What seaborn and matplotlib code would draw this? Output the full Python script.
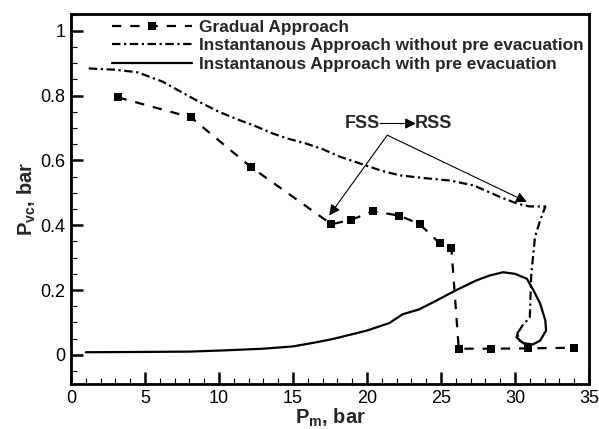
import matplotlib
matplotlib.use("Agg")
import matplotlib.pyplot as plt
import seaborn as sns
import pandas as pd
from matplotlib.ticker import MultipleLocator, FuncFormatter

# ---- data ----
grad_x = [3.15, 8.1, 12.15, 17.6, 18.95, 20.4, 22.15, 23.55, 24.9, 25.7, 26.2, 28.4, 30.9, 34.0]
grad_y = [0.795, 0.733, 0.58, 0.403, 0.417, 0.443, 0.43, 0.404, 0.345, 0.33, 0.019, 0.019, 0.02, 0.022]

inst_x = [1.2, 3.0, 4.5, 6.2, 7.5, 8.7, 10.0, 11.4, 12.3, 13.65, 14.6, 15.9, 17.0, 18.2, 19.7,
          21.0, 22.2, 24.0, 25.6, 27.2, 29.0, 30.2, 31.0, 32.05, 31.7, 31.35, 31.24, 31.1, 31.0,
          30.5, 30.15, 30.3, 30.8]
inst_y = [0.884, 0.88, 0.872, 0.843, 0.81, 0.78, 0.75, 0.724, 0.709, 0.683, 0.668, 0.652, 0.635,
          0.611, 0.588, 0.568, 0.554, 0.545, 0.538, 0.523, 0.487, 0.466, 0.458, 0.458, 0.415,
          0.364, 0.312, 0.25, 0.116, 0.09, 0.065, 0.044, 0.03]

pre_x = [1.0, 5.0, 8.0, 10.5, 13.0, 15.0, 16.6, 17.7, 18.5, 20.0, 21.5, 22.4, 23.5, 24.5, 26.0,
         27.4, 28.3, 29.2, 30.0, 30.8, 31.25, 31.7, 32.05, 32.1, 31.7, 31.2, 30.56, 30.1, 30.2]
pre_y = [0.008, 0.009, 0.01, 0.014, 0.019, 0.026, 0.039, 0.049, 0.058, 0.075, 0.098, 0.125, 0.14,
         0.163, 0.199, 0.23, 0.245, 0.255, 0.25, 0.235, 0.199, 0.158, 0.106, 0.075, 0.044, 0.032,
         0.036, 0.054, 0.07]

labels = ["Gradual Approach",
          "Instantanous Approach without pre evacuation",
          "Instantanous Approach with pre evacuation"]

x_ticks = [0, 5, 10, 15, 20, 25, 30, 35]
y_ticks = [0, 0.2, 0.4, 0.6, 0.8, 1.0]

# ---- style ----
sns.set_theme(style="ticks")
plt.rcParams["font.family"] = ["Liberation Sans", "DejaVu Sans"]
plt.rcParams["mathtext.fontset"] = "custom"
plt.rcParams["mathtext.rm"] = "Liberation Sans"
plt.rcParams["mathtext.it"] = "Liberation Sans:italic"
plt.rcParams["mathtext.bf"] = "Liberation Sans:bold"

fig = plt.figure(figsize=(5.99, 4.29), dpi=100)
ax = fig.add_axes([71 / 599, 1 - 384 / 429, 518 / 599, 370 / 429])

df_g = pd.DataFrame({"x": grad_x, "y": grad_y})
df_i = pd.DataFrame({"x": inst_x, "y": inst_y})
df_p = pd.DataFrame({"x": pre_x, "y": pre_y})

sns.lineplot(data=df_g, x="x", y="y", sort=False, estimator=None, ax=ax, color="black",
             lw=1.6, linestyle=(0, (4.2, 4)), marker="s", markersize=5.5,
             markeredgewidth=0, label=labels[0])
sns.lineplot(data=df_i, x="x", y="y", sort=False, estimator=None, ax=ax, color="black",
             lw=1.6, linestyle=(0, (3.8, 1.6, 1.0, 1.6)), label=labels[1])
sns.lineplot(data=df_p, x="x", y="y", sort=False, estimator=None, ax=ax, color="black",
             lw=1.6, linestyle="-", label=labels[2])

ax.set_xlim(0, 35)
ax.set_ylim(-0.09, 1.052)
ax.set_xticks(x_ticks)
ax.set_yticks(y_ticks)
ax.xaxis.set_minor_locator(MultipleLocator(1))
ax.yaxis.set_minor_locator(MultipleLocator(0.05))
ax.yaxis.set_major_formatter(FuncFormatter(lambda v, p: "%g" % v))
ax.xaxis.set_major_formatter(FuncFormatter(lambda v, p: "%g" % v))
ax.tick_params(which="major", direction="in", length=8.5, width=1.8, labelsize=13,
               colors="black", pad=4, top=False, right=False)
ax.tick_params(which="minor", direction="in", length=4.5, width=0.8, colors="black",
               top=False, right=False)
for s in ax.spines.values():
    s.set_linewidth(2)
    s.set_color("black")
    s.set_visible(True)

ax.set_xlabel(r"P$_\mathbf{m}$, bar", fontsize=14.5, fontweight="bold", labelpad=0)
ax.set_ylabel(r"P$_\mathbf{vc}$, bar", fontsize=14.5, fontweight="bold", labelpad=2)

leg = ax.legend(loc="upper left", bbox_to_anchor=(0.08, 0.985), frameon=False,
                borderpad=0, borderaxespad=0, handlelength=4.6, handletextpad=0.45,
                labelspacing=0.2, numpoints=1,
                prop={"family": "Liberation Sans", "weight": "bold", "size": 12.4})

# annotation: FSS -> RSS
ax.text(19.7, 0.714, "FSS", fontsize=13, fontweight="bold", ha="center", va="center")
ax.text(24.5, 0.714, "RSS", fontsize=13, fontweight="bold", ha="center", va="center")
ax.annotate("", xy=(23.3, 0.714), xytext=(20.9, 0.714),
            arrowprops=dict(arrowstyle="-|>", lw=0.8, color="black", mutation_scale=16,
                            shrinkA=0, shrinkB=0))
ax.annotate("", xy=(17.45, 0.43), xytext=(21.37, 0.678),
            arrowprops=dict(arrowstyle="-|>", lw=0.8, color="black", mutation_scale=16,
                            shrinkA=0, shrinkB=0))
ax.annotate("", xy=(30.8, 0.472), xytext=(21.37, 0.678),
            arrowprops=dict(arrowstyle="-|>", lw=0.8, color="black", mutation_scale=16,
                            shrinkA=0, shrinkB=0))

fig.savefig("out.png", dpi=100)
